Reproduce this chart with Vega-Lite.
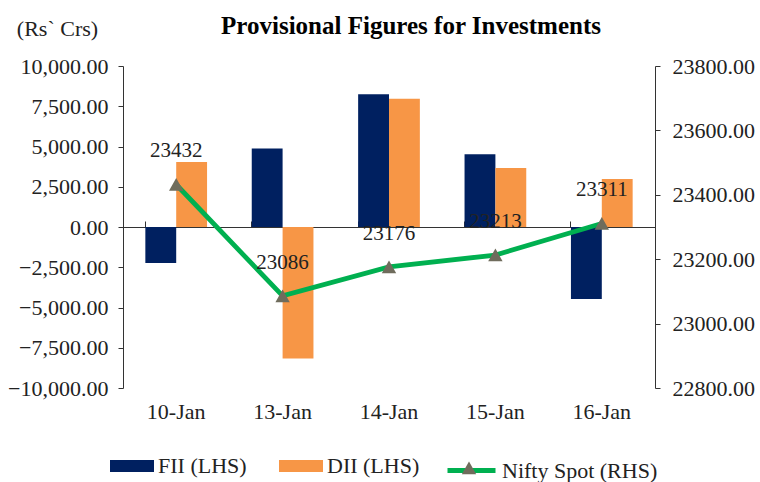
{
  "$schema": "https://vega.github.io/schema/vega-lite/v6.json",
  "width": 532,
  "height": 322,
  "autosize": {"type": "none"},
  "padding": {"left": 123, "top": 66, "right": 105, "bottom": 94},
  "background": "#ffffff",
  "title": {
    "text": "Provisional Figures for Investments",
    "font": "Liberation Serif",
    "fontSize": 25,
    "fontWeight": "bold",
    "color": "#000000",
    "anchor": "middle",
    "dx": 22,
    "offset": -22
  },
  "datasets": {
    "flows": [
      {"date": "10-Jan", "series": "FII (LHS)", "value": -2240},
      {"date": "10-Jan", "series": "DII (LHS)", "value": 4030},
      {"date": "13-Jan", "series": "FII (LHS)", "value": 4880},
      {"date": "13-Jan", "series": "DII (LHS)", "value": -8170},
      {"date": "14-Jan", "series": "FII (LHS)", "value": 8240},
      {"date": "14-Jan", "series": "DII (LHS)", "value": 7970},
      {"date": "15-Jan", "series": "FII (LHS)", "value": 4520},
      {"date": "15-Jan", "series": "DII (LHS)", "value": 3660},
      {"date": "16-Jan", "series": "FII (LHS)", "value": -4470},
      {"date": "16-Jan", "series": "DII (LHS)", "value": 2980}
    ],
    "nifty": [
      {"date": "10-Jan", "nifty": 23432, "line": "Nifty Spot (RHS)", "marker": "Nifty marker"},
      {"date": "13-Jan", "nifty": 23086, "line": "Nifty Spot (RHS)", "marker": "Nifty marker"},
      {"date": "14-Jan", "nifty": 23176, "line": "Nifty Spot (RHS)", "marker": "Nifty marker"},
      {"date": "15-Jan", "nifty": 23213, "line": "Nifty Spot (RHS)", "marker": "Nifty marker"},
      {"date": "16-Jan", "nifty": 23311, "line": "Nifty Spot (RHS)", "marker": "Nifty marker"}
    ]
  },
  "layer": [
    {
      "data": {"name": "flows"},
      "mark": {"type": "bar"},
      "encoding": {
        "x": {
          "field": "date", "type": "nominal", "sort": null,
          "scale": {"paddingInner": 0.42, "paddingOuter": 0.21},
          "axis": {"title": null, "domain": false, "ticks": false, "labelAngle": 0, "labelPadding": 13, "labelFontSize": 22}
        },
        "xOffset": {"field": "series", "type": "nominal", "sort": ["FII (LHS)", "DII (LHS)"], "scale": {"paddingInner": 0, "paddingOuter": 0}},
        "y": {
          "field": "value", "type": "quantitative",
          "scale": {"domain": [-10000, 10000], "nice": false},
          "axis": {
            "values": [-10000, -7500, -5000, -2500, 0, 2500, 5000, 7500, 10000],
            "format": ",.2f",
            "grid": false,
            "tickSize": 5,
            "labelPadding": 10,
            "labelFontSize": 22,
            "title": "(Rs` Crs)",
            "titleAngle": 0,
            "titleX": -66,
            "titleY": -38,
            "titleAlign": "center",
            "titleBaseline": "middle",
            "titleFontWeight": "normal",
            "titleFontSize": 22,
            "titleFont": "Liberation Serif",
            "titleColor": "#222222"
          }
        },
        "fill": {
          "field": "series", "type": "nominal", "sort": ["FII (LHS)", "DII (LHS)"],
          "scale": {"domain": ["FII (LHS)", "DII (LHS)"], "range": ["#002060", "#F79646"]},
          "legend": {
            "title": null, "orient": "none", "legendX": -13, "legendY": 378,
            "direction": "horizontal", "symbolType": "M-1,-0.27H1V0.27H-1Z", "symbolSize": 1936,
            "symbolStrokeWidth": 0, "labelOffset": 4, "columnPadding": 32, "padding": 0
          }
        }
      }
    },
    {
      "data": {"name": "nifty"},
      "layer": [
        {
          "mark": {"type": "line", "strokeWidth": 4.8},
          "encoding": {
            "x": {"field": "date", "type": "nominal", "sort": null,
              "axis": {"title": null, "offset": -161, "labels": false, "domain": true, "ticks": true, "bandPosition": 0, "tickSize": 6}},
            "y": {
              "field": "nifty", "type": "quantitative",
              "scale": {"domain": [22800, 23800], "nice": false, "zero": false},
              "axis": {"orient": "right", "values": [22800, 23000, 23200, 23400, 23600, 23800], "format": ".2f", "grid": false, "tickSize": 5, "labelPadding": 12, "labelFontSize": 22, "title": null}
            },
            "stroke": {
              "field": "line", "type": "nominal",
              "scale": {"domain": ["Nifty Spot (RHS)"], "range": ["#00B050"]},
              "legend": {"title": null, "orient": "none", "legendX": 322, "legendY": 378, "symbolType": "stroke", "symbolSize": 2304, "symbolStrokeWidth": 5, "labelOffset": 4, "padding": 0}
            }
          }
        },
        {
          "mark": {"type": "point", "filled": true, "size": 2304, "color": "#6F6C5C", "opacity": 1, "strokeWidth": 0},
          "encoding": {
            "x": {"field": "date", "type": "nominal", "sort": null,
              "axis": {"title": null, "offset": -161, "labels": false, "domain": true, "ticks": true, "bandPosition": 0, "tickSize": 6}},
            "y": {"field": "nifty", "type": "quantitative"},
            "shape": {
              "field": "marker", "type": "nominal",
              "scale": {"domain": ["Nifty marker"], "range": ["M-0.3,0.26L0,-0.27L0.3,0.26Z"]},
              "legend": {"title": null, "orient": "none", "legendX": 322, "legendY": 378, "symbolSize": 2304, "symbolFillColor": "#6F6C5C", "symbolStrokeWidth": 0, "labelOffset": 4, "padding": 0, "labelExpr": "''"}
            }
          }
        },
        {
          "mark": {"type": "text", "font": "Liberation Serif", "fontSize": 21, "dy": -33, "color": "#222222", "baseline": "middle"},
          "encoding": {
            "x": {"field": "date", "type": "nominal", "sort": null,
              "axis": {"title": null, "offset": -161, "labels": false, "domain": true, "ticks": true, "bandPosition": 0, "tickSize": 6}},
            "y": {"field": "nifty", "type": "quantitative"},
            "text": {"field": "nifty", "type": "quantitative", "format": "d"}
          }
        }
      ]
    }
  ],
  "resolve": {"scale": {"y": "independent"}, "axis": {"x": "independent"}},
  "config": {
    "view": {"stroke": null},
    "font": "Liberation Serif",
    "axis": {
      "labelFont": "Liberation Serif",
      "labelColor": "#222222",
      "domainColor": "#333333",
      "tickColor": "#333333",
      "domainWidth": 1,
      "tickWidth": 1
    },
    "legend": {
      "labelFont": "Liberation Serif",
      "labelFontSize": 22,
      "labelColor": "#222222",
      "labelLimit": 300
    }
  }
}
